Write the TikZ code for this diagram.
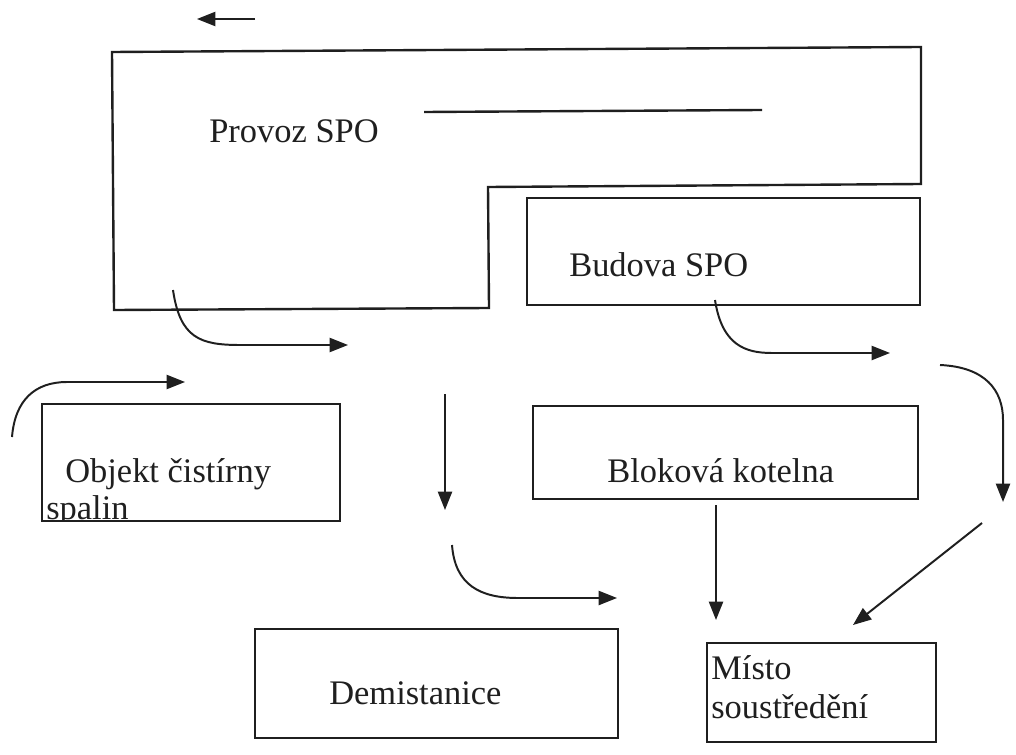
\documentclass[tikz,border=0pt]{standalone}
\usepackage{fontspec}
\setmainfont{Liberation Serif}
\usetikzlibrary{arrows.meta}
\colorlet{ink}{black!88}
\begin{document}
\begin{tikzpicture}[x=0.025cm, y=-0.025cm,
    box/.style={draw=ink, line width=1.7pt, line join=miter},
    lbl/.style={inner sep=0pt, anchor=base west, text=ink, font=\fontsize{24.5pt}{29pt}\selectfont},
    flow/.style={draw=ink, line width=1.4pt, -{Triangle[length=13pt,width=10pt]}}]
		\useasboundingbox (0,0) rectangle (1016,754);
		% Buildings
		\draw[box] (112,52) -- (921,47) -- (921,184) -- (488,187) -- (489,308) -- (114,310) -- cycle;
		\draw[box] (424,112) -- (762,110);
		\draw[box] (527,198) rectangle (920,305);
		\draw[box] (42,404) rectangle (340,521);
		\draw[box] (533,406) rectangle (918,499);
		\draw[box] (255,629) rectangle (618,738);
		\draw[box] (707,643) rectangle (936,742);
		\node[lbl] (Provoz) at (209,143) {Provoz SPO};
		\node[lbl] (Budova) at (569,276) {Budova SPO};
		\node[lbl] (Objekt) at (65,482) {Objekt čistírny};
		\begin{scope}
			\clip (42,404) rectangle (340,520);
			\node[lbl] (spalin) at (46,519) {spalin};
		\end{scope}
		\node[lbl] (Kotelna) at (607,482) {Bloková kotelna};
		\node[lbl] (Demistanice) at (329,704) {Demistanice};
		\node[lbl] (Misto) at (711,679) {Místo};
		\node[lbl] (Soustredeni) at (711,718) {soustředění};
		% Arrow ends
		\coordinate (w1) at (255,19);   \coordinate (w2) at (197,19);
		\coordinate (p1) at (173,290);  \coordinate (p2) at (348,345);
		\coordinate (b1) at (715,300);  \coordinate (b2) at (890,353);
		\coordinate (r1) at (940,365);  \coordinate (r2) at (1003,502);
		\coordinate (l1) at (12,437);   \coordinate (l2) at (185,382);
		\coordinate (m1) at (445,394);  \coordinate (m2) at (445,510);
		\coordinate (c1) at (452,545);  \coordinate (c2) at (617,598);
		\coordinate (k1) at (716,505);  \coordinate (k2) at (716,620);
		\coordinate (d1) at (982,523);  \coordinate (d2) at (853,625);
		% Arrows
		\draw[flow] (w1) -- (w2);
		\draw[flow] (p1) .. controls (180,338) and (200,345) .. (240,345) -- (p2);
		\draw[flow] (b1) .. controls (722,345) and (745,353) .. (772,353) -- (b2);
		\draw[flow] (r1) .. controls (985,367) and (1003,390) .. (1003,420) -- (r2);
		\draw[flow] (l1) .. controls (15,400) and (35,382) .. (67,382) -- (l2);
		\draw[flow] (m1) -- (m2);
		\draw[flow] (c1) .. controls (455,585) and (480,598) .. (518,598) -- (c2);
		\draw[flow] (k1) -- (k2);
		\draw[flow] (d1) -- (d2);
	\end{tikzpicture}
\end{document}
